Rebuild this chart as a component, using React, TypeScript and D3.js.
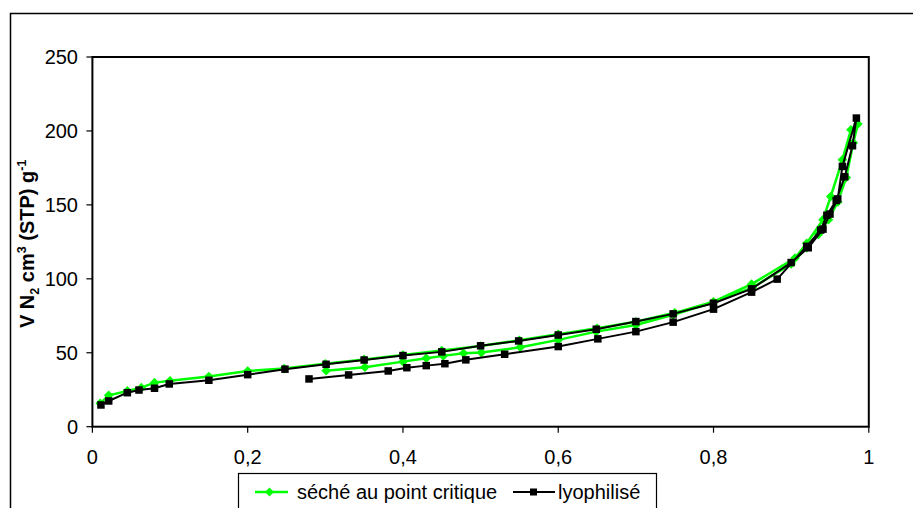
import React from "react";
import * as d3 from "d3";

const xTicks = [0, 0.2, 0.4, 0.6, 0.8, 1];
const xTickLabels = ["0", "0,2", "0,4", "0,6", "0,8", "1"];
const yTicks = [0, 50, 100, 150, 200, 250];
const seriesNames = ["séché au point critique", "lyophilisé"];

// séché au point critique (adsorption then desorption)
const secheP = [
  0.01, 0.021, 0.045, 0.063, 0.08, 0.1, 0.15, 0.2, 0.247, 0.3, 0.35, 0.4, 0.45, 0.5, 0.55, 0.6, 0.65, 0.7, 0.75, 0.8,
  0.849, 0.905, 0.92, 0.941, 0.951, 0.966, 0.977, 0.986,
  0.98, 0.971, 0.96, 0.948, 0.935, 0.92, 0.9, 0.85, 0.8, 0.748, 0.7, 0.649, 0.6, 0.551, 0.501, 0.478, 0.452, 0.43,
  0.4, 0.351, 0.301,
];
const secheV = [
  15.8, 21.2, 24.2, 26.4, 29.8, 31.1, 33.9, 37.7, 39.3, 42.5, 45.5, 48.5, 51.5, 54.5, 58.5, 62.5, 66.5, 71, 77, 84.5,
  96.4, 114, 124, 140, 155.7, 180.5, 200.8, 204.7,
  192, 168.5, 152, 140, 130, 121, 110, 94, 84.2, 75.6, 68.8, 64.3, 58.7, 53.7, 50.1, 49.7, 47.9, 46.3,
  44, 40.2, 37.9,
];

// lyophilisé (adsorption then desorption)
const lyoP = [
  0.011, 0.021, 0.045, 0.06, 0.08, 0.099, 0.15, 0.2, 0.248, 0.301, 0.35, 0.4, 0.45, 0.5, 0.549, 0.6, 0.649, 0.7, 0.748,
  0.8, 0.849, 0.9, 0.922, 0.941, 0.95, 0.96, 0.966, 0.984,
  0.979, 0.969, 0.958, 0.946, 0.938, 0.92, 0.882, 0.849, 0.8, 0.748, 0.7, 0.651, 0.6, 0.531, 0.481, 0.454, 0.43,
  0.405, 0.381, 0.33, 0.279,
];
const lyoV = [
  14.7, 17.4, 23, 24.8, 26, 28.9, 31.4, 35.2, 38.9, 42.2, 45.1, 48.1, 50.6, 54.7, 58, 62, 65.9, 71.1, 76.3,
  83.5, 93.2, 111, 121, 133.6, 143.8, 154, 176, 208.7,
  190, 169, 153, 143, 133, 122, 99.8, 91, 79.5, 70.7, 64.3, 59.4, 54.2, 49, 45.2, 42.6, 41.3,
  39.9, 37.7, 35, 32.3,
];

const W = 913;
const H = 508;
const FONT = "'Liberation Sans', Arial, sans-serif";
const FS = 20;

export default function App() {
  const x = d3.scaleLinear().domain([0, 1]).range([92.4, 868.8]);
  const y = d3.scaleLinear().domain([0, 250]).range([426.7, 57]);
  const line = d3
    .line<[number, number]>()
    .x((d) => x(d[0]))
    .y((d) => y(d[1]));

  const sechePts: [number, number][] = secheP.map((p, i) => [p, secheV[i]]);
  const lyoPts: [number, number][] = lyoP.map((p, i) => [p, lyoV[i]]);
  const green = "#00ff00";
  const diamond = (cx: number, cy: number, r: number) =>
    `M${cx},${cy - r}L${cx + r},${cy}L${cx},${cy + r}L${cx - r},${cy}Z`;

  return (
    <svg
      width={W}
      height={H}
      style={{ position: "absolute", left: 0, top: 0, background: "#fff" }}
      fontFamily={FONT}
    >
      <rect x={0} y={0} width={W} height={H} fill="#fff" />
      {/* outer chart border (clipped on right/bottom) */}
      <rect x={10.5} y={13.5} width={W + 20} height={H + 20} fill="none" stroke="#000" strokeWidth={1.5} />

      {/* plot area */}
      <rect
        x={x(0)}
        y={y(250)}
        width={x(1) - x(0)}
        height={y(0) - y(250)}
        fill="#fff"
        stroke="#000"
        strokeWidth={2}
      />

      {/* y ticks */}
      {yTicks.map((t) => (
        <g key={"y" + t}>
          <line x1={x(0) - 6} x2={x(0)} y1={y(t)} y2={y(t)} stroke="#000" strokeWidth={1.2} />
          <text x={78} y={y(t) + 7} textAnchor="end" fontSize={FS} fill="#000">
            {t}
          </text>
        </g>
      ))}

      {/* x ticks */}
      {xTicks.map((t, i) => (
        <g key={"x" + t}>
          <line x1={x(t)} x2={x(t)} y1={y(0)} y2={y(0) + 6} stroke="#000" strokeWidth={1.2} />
          <text x={x(t)} y={463.5} textAnchor="middle" fontSize={FS} fill="#000">
            {xTickLabels[i]}
          </text>
        </g>
      ))}

      {/* y axis title */}
      <text
        transform={`translate(33.5, ${(y(0) + y(250)) / 2 + 2}) rotate(-90)`}
        textAnchor="middle"
        fontSize={FS}
        fontWeight="bold"
        fill="#000"
      >
        V N
        <tspan fontSize={12.5} dy={5}>2</tspan>
        <tspan dy={-5}> cm</tspan>
        <tspan fontSize={12.5} dy={-8}>3</tspan>
        <tspan dy={8}> (STP) g</tspan>
        <tspan fontSize={12.5} dy={-8}>-1</tspan>
      </text>

      {/* series: séché */}
      <path d={line(sechePts) || ""} fill="none" stroke={green} strokeWidth={2.5} strokeLinejoin="round" />
      {sechePts.map((d, i) => (
        <path key={"g" + i} d={diamond(x(d[0]), y(d[1]), 4.8)} fill={green} />
      ))}

      {/* series: lyophilisé */}
      <path d={line(lyoPts) || ""} fill="none" stroke="#000" strokeWidth={2} strokeLinejoin="round" />
      {lyoPts.map((d, i) => (
        <rect key={"b" + i} x={x(d[0]) - 3.75} y={y(d[1]) - 3.75} width={7.5} height={7.5} fill="#000" />
      ))}

      {/* legend */}
      <rect x={238.5} y={473.5} width={418} height={50} fill="#fff" stroke="#000" strokeWidth={1.2} />
      <line x1={255} x2={288} y1={492} y2={492} stroke={green} strokeWidth={2.5} />
      <path d={diamond(269.5, 492, 4.5)} fill={green} />
      <text x={297} y={498.5} fontSize={FS} fill="#000">
        {seriesNames[0]}
      </text>
      <line x1={513} x2={555} y1={492} y2={492} stroke="#000" strokeWidth={2} />
      <rect x={530} y={488.5} width={7} height={7} fill="#000" />
      <text x={558} y={498.5} fontSize={FS} fill="#000">
        {seriesNames[1]}
      </text>
    </svg>
  );
}
